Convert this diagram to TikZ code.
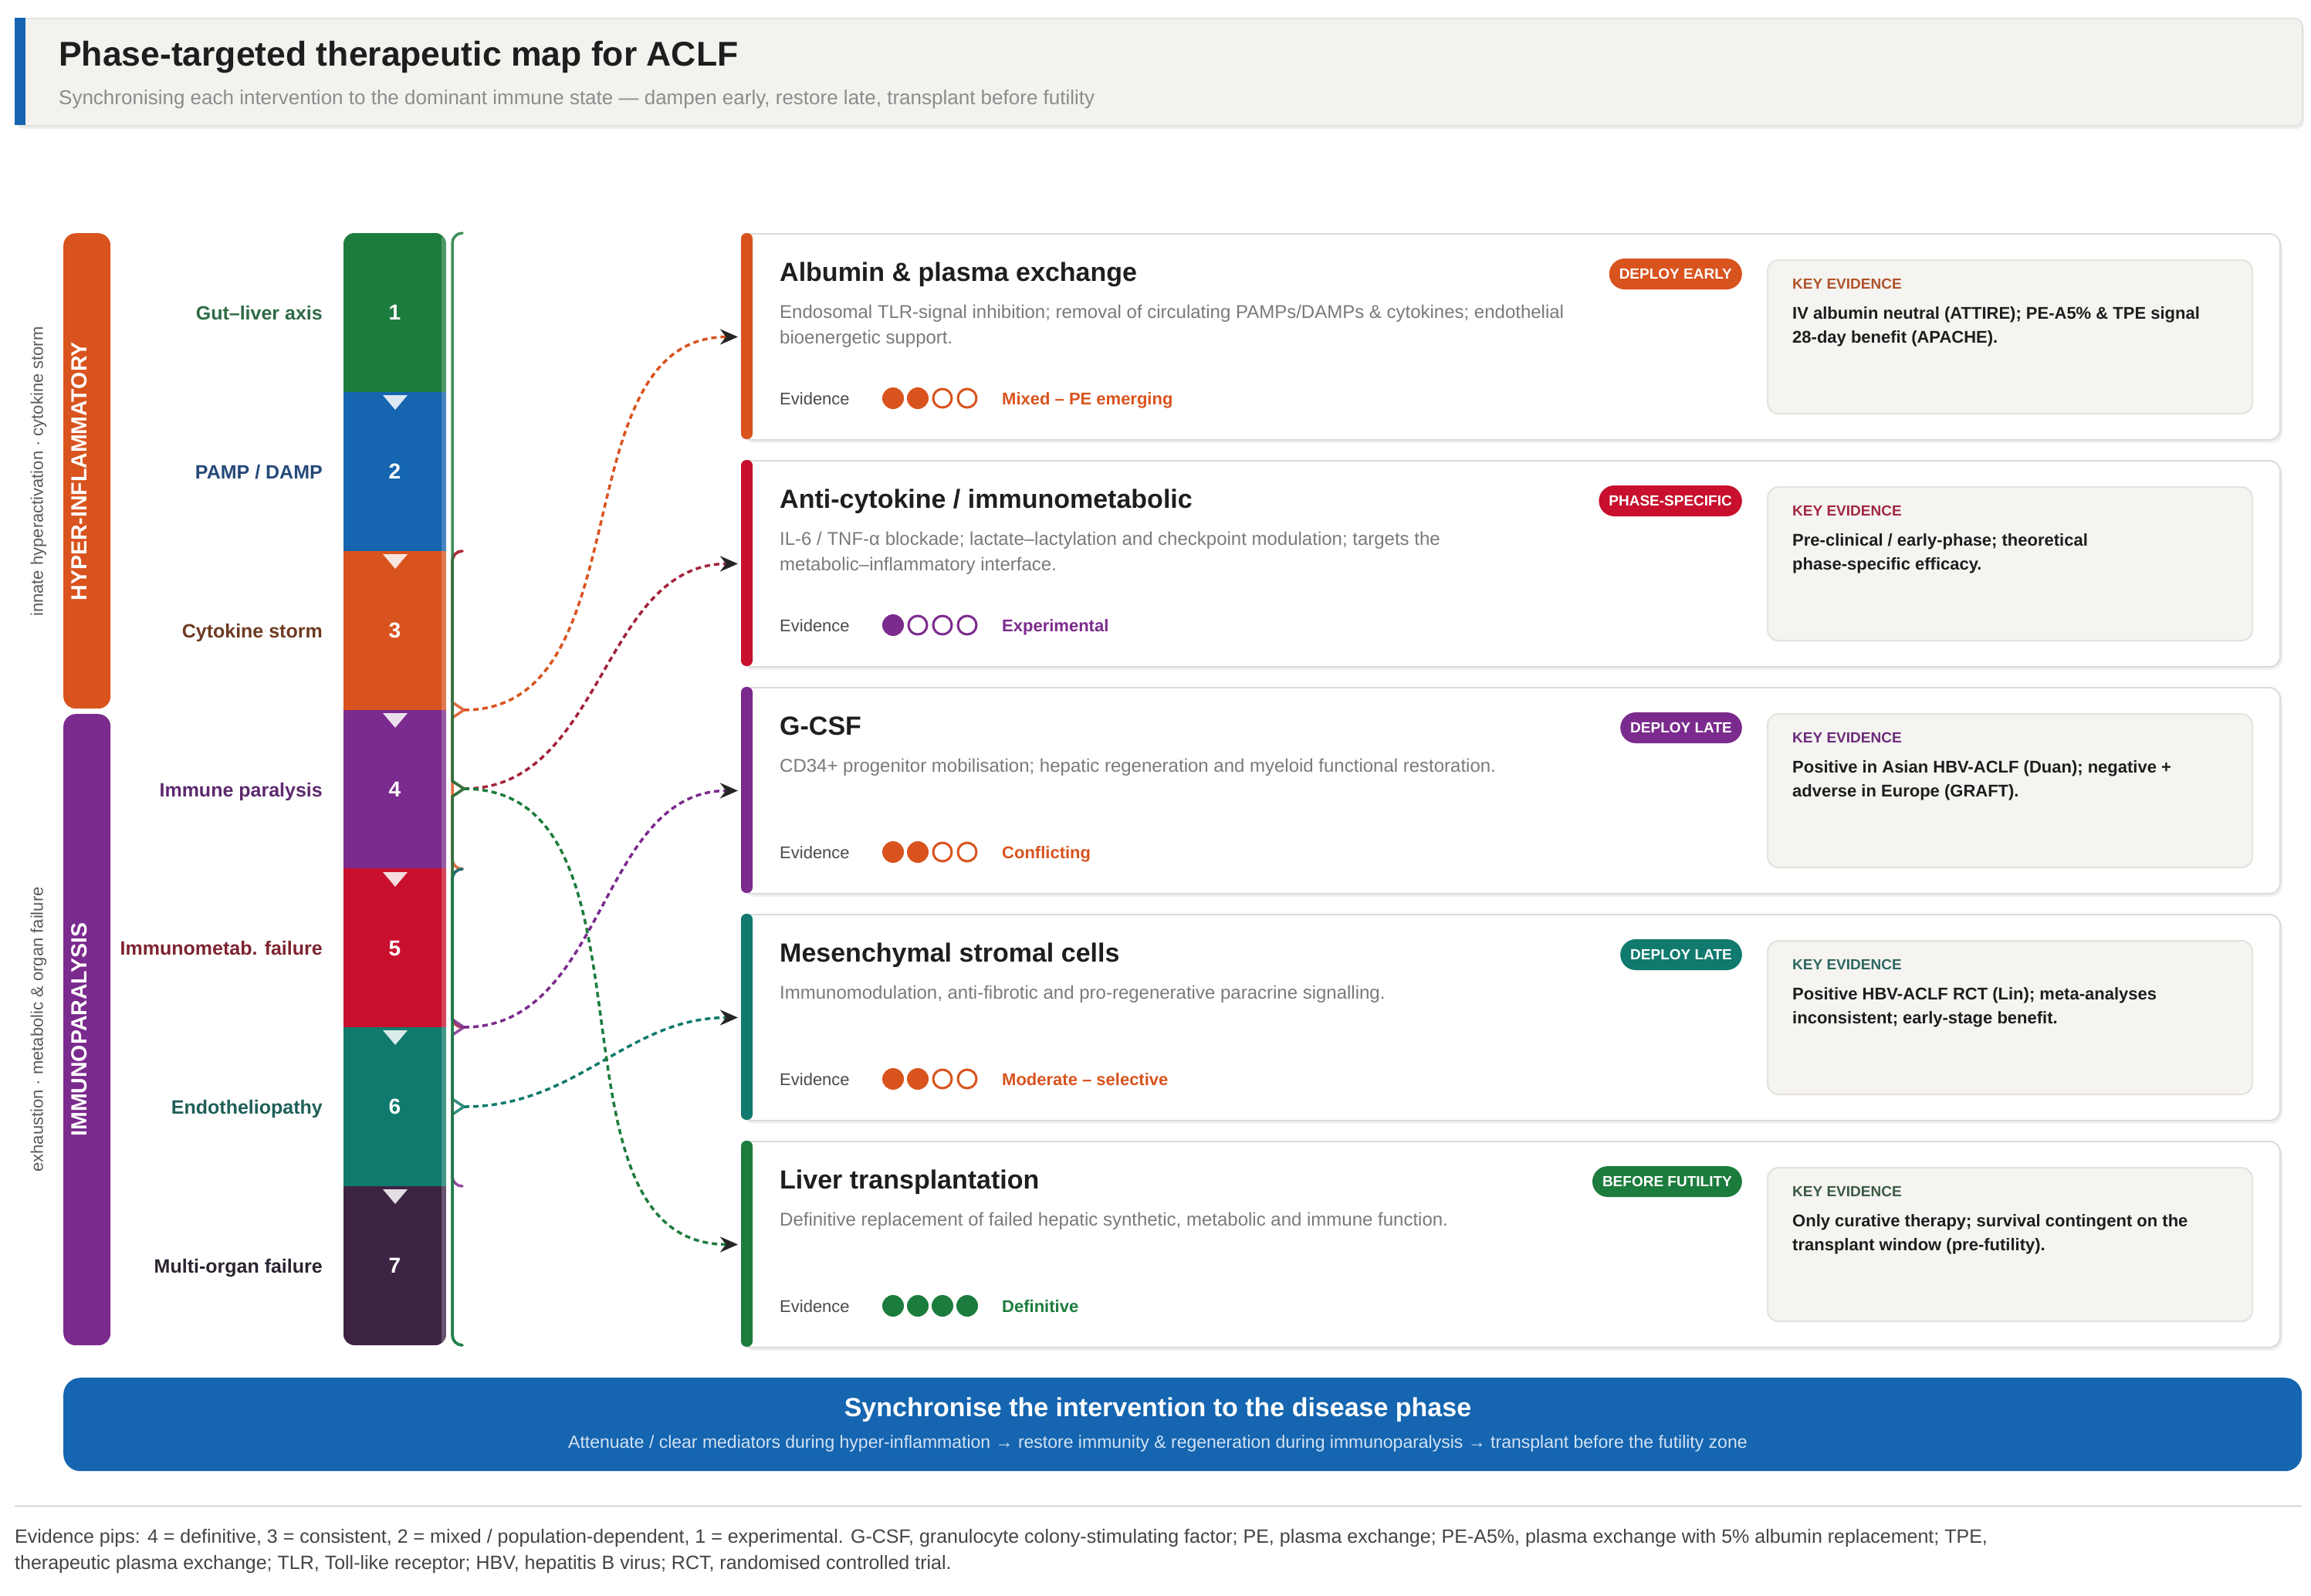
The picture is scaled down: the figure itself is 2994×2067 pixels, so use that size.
\documentclass[tikz,border=0pt]{standalone}
\usepackage{fontspec}
\setmainfont{Liberation Sans}
\usetikzlibrary{arrows.meta}
\newcommand{\fsz}[2]{\fontsize{#1}{#2}\selectfont}
\definecolor{cGreen}{HTML}{1C7C3D}
\definecolor{cBlue}{HTML}{1565B0}
\definecolor{cOrange}{HTML}{D9531E}
\definecolor{cPurple}{HTML}{7B2A8D}
\definecolor{cRed}{HTML}{C8102E}
\definecolor{cTeal}{HTML}{0F7A6D}
\definecolor{cPlum}{HTML}{3D2344}
\definecolor{cHead}{HTML}{F4F2EF}
\definecolor{cHeadB}{HTML}{E2DFDA}
\definecolor{cBorder}{HTML}{DCDCDC}
\definecolor{cKey}{HTML}{F5F4F1}
\definecolor{cKeyB}{HTML}{E4E2DD}
\definecolor{cDesc}{HTML}{7A7A7A}
\definecolor{cDark}{HTML}{1E1E1E}
\definecolor{cSub}{HTML}{8C8C8C}
\definecolor{cGrayTxt}{HTML}{5A5A5A}
\definecolor{cEvl}{HTML}{4A4A4A}
\definecolor{cFoot}{HTML}{444444}
\definecolor{cSep}{HTML}{E2E2E2}
\definecolor{cBannerSub}{HTML}{D2E2F4}
\definecolor{cRedD}{HTML}{A3223C}
\definecolor{labA}{HTML}{2E6A45}
\definecolor{labB}{HTML}{26497A}
\definecolor{labC}{HTML}{6E3A22}
\definecolor{labD}{HTML}{5D2A6E}
\definecolor{labE}{HTML}{7E2430}
\definecolor{labF}{HTML}{1E5F58}
\definecolor{labG}{HTML}{2B2330}
\definecolor{kA}{HTML}{B0532B}
\definecolor{kB}{HTML}{A12842}
\definecolor{kC}{HTML}{6B2C7B}
\definecolor{kD}{HTML}{2E6661}
\definecolor{kE}{HTML}{3A5A42}
\newcommand{\pips}[2]{%
  \foreach \k in {1,2,3,4}{%
    \pgfmathsetmacro{\px}{1125+32*\k}%
    \ifnum\k>#2\relax
      \draw[#1,line width=3pt,fill=white] (\px,214) circle (12pt);
    \else
      \fill[#1] (\px,214) circle (14pt);
    \fi}}
\newcommand{\bracket}[4]{%
  \draw[brk,#1] (599,#2) to[out=180,in=90] (586,#2+13) -- (586,#3-10) -- (601,#3) -- (586,#3+10) -- (586,#4-13) to[out=270,in=180] (599,#4);}
\begin{document}
\begin{tikzpicture}[x=1pt,y=-1pt,
  txt/.style={inner sep=0pt,anchor=base west},
  txtc/.style={inner sep=0pt,anchor=base},
  stl/.style={inner sep=0pt,anchor=base east,font={\fsz{25}{30}\bfseries}},
  seg/.style={minimum width=134pt,minimum height=207pt,inner sep=0pt,text=white,font={\fsz{28}{34}\bfseries}},
  tri/.style={fill=white,opacity=0.85},
  brk/.style={line width=3.5pt,line cap=round,line join=round,opacity=0.85},
  cardbox/.style={draw=cBorder,line width=2pt,fill=white,rounded corners=14pt,minimum width=1993pt,minimum height=267pt,anchor=north west,inner sep=0pt},
  cardshadow/.style={fill=black,opacity=0.06,rounded corners=14pt},
  ttl/.style={txt,font={\fsz{34}{41}\bfseries},text=cDark},
  dsc/.style={txt,font={\fsz{24}{29}},text=cDesc},
  evl/.style={txt,font={\fsz{22}{27}},text=cEvl},
  evt/.style={txt,font={\fsz{22}{27}\bfseries}},
  badge/.style={rounded corners=20pt,minimum height=40pt,inner xsep=13pt,inner ysep=0pt,anchor=east,text=white,font={\fsz{19}{23}\bfseries}},
  keybox/.style={draw=cKeyB,fill=cKey,line width=2pt,rounded corners=14pt,minimum width=628pt,minimum height=199pt,anchor=north west,inner sep=0pt},
  klab/.style={txt,font={\fsz{19}{23}\bfseries}},
  ktx/.style={txt,font={\fsz{22}{27}\bfseries},text=cDark},
  conn/.style={line width=3.5pt,dash pattern=on 7pt off 5pt,-{Stealth[length=23pt,width=20pt,color=black!85]},shorten >=4pt},
  phase/.style={rounded corners=16pt,minimum width=61pt,anchor=north west,inner sep=0pt}
]
\useasboundingbox (0,0) rectangle (2994,2067);
\fill[white] (0,0) rectangle (2994,2067);

% ---------- header
\fill[black,opacity=0.07,rounded corners=10pt] (21,27) rectangle (2985,167);
\node[draw=cHeadB,fill=cHead,line width=1.5pt,rounded corners=10pt,minimum width=2963pt,minimum height=139pt,anchor=north west,inner sep=0pt] (header) at (19,23) {};
\fill[cBlue] (19,23) rectangle (33,162);
\node[txt,font={\fsz{44.5}{52}\bfseries},text=cDark] (title) at (76,85) {Phase-targeted therapeutic map for ACLF};
\node[txt,font={\fsz{26}{31}},text=cSub] (subtitle) at (76,135) {Synchronising each intervention to the dominant immune state — dampen early, restore late, transplant before futility};

% ---------- phase bars
\node[phase,fill=cOrange,minimum height=616pt] (phaseA) at (82,302) {};
\node[phase,fill=cPurple,minimum height=818pt] (phaseB) at (82,925) {};
\node[rotate=90,font={\fsz{28.5}{34}\bfseries},text=white,inner sep=0pt] (phaseAtxt) at (103,611) {HYPER-INFLAMMATORY};
\node[rotate=90,font={\fsz{28.5}{34}\bfseries},text=white,inner sep=0pt] (phaseBtxt) at (103,1334) {IMMUNOPARALYSIS};
\node[rotate=90,font={\fsz{22}{26}},text=cGrayTxt,inner sep=0pt] (noteA) at (50,611) {innate hyperactivation · cytokine storm};
\node[rotate=90,font={\fsz{22}{26}},text=cGrayTxt,inner sep=0pt] (noteB) at (50,1334) {exhaustion · metabolic \& organ failure};

% ---------- stage column
\begin{scope}
\clip[rounded corners=14pt] (445,302) rectangle (578,1743);
\node[seg,fill=cGreen]  (s1) at (511.5,405) {1};
\node[seg,fill=cBlue]   (s2) at (511.5,611) {2};
\node[seg,fill=cOrange] (s3) at (511.5,817) {3};
\node[seg,fill=cPurple] (s4) at (511.5,1023) {4};
\node[seg,fill=cRed]    (s5) at (511.5,1228.5) {5};
\node[seg,fill=cTeal]   (s6) at (511.5,1434) {6};
\node[seg,fill=cPlum]   (s7) at (511.5,1640) {7};
\fill[white,opacity=0.22] (572,302) rectangle (578,1743);
\end{scope}
\foreach \b in {508,714,920,1126,1331,1537}{
  \fill[tri] (496,\b+4) -- (528,\b+4) -- (512,\b+23) -- cycle;}

% ---------- stage labels
\node[stl,text=labA] (l1) at (418,414) {Gut–liver axis};
\node[stl,text=labB] (l2) at (418,620) {PAMP / DAMP};
\node[stl,text=labC] (l3) at (418,826) {Cytokine storm};
\node[stl,text=labD] (l4) at (418,1032) {Immune paralysis};
\node[stl,text=labE] (l5) at (418,1237) {Immunometab. failure};
\node[stl,text=labF] (l6) at (418,1443) {Endotheliopathy};
\node[stl,text=labG] (l7) at (418,1649) {Multi-organ failure};

% ---------- brackets
\bracket{cOrange}{714}{920}{1126}
\bracket{cRedD}{714}{1022}{1331}
\bracket{cPurple}{1126}{1331}{1537}
\bracket{cTeal}{1126}{1434}{1743}
\bracket{cGreen}{302}{1022}{1743}
\coordinate (tipA) at (601,920);
\coordinate (tipR) at (601,1022);
\coordinate (tipP) at (601,1331);
\coordinate (tipT) at (601,1434);
\coordinate (tipG) at (601,1022);

% ---------- card 1
\begin{scope}[shift={(0,302)}]
\fill[cardshadow] (963,4) rectangle (2957,272);
\node[cardbox] (card1) at (960,0) {};
\fill[cOrange,rounded corners=7pt] (960,0) rectangle (975,267);
\node[ttl] (ttl1) at (1010,62) {Albumin \& plasma exchange};
\node[dsc] (dsc1a) at (1010,110) {Endosomal TLR-signal inhibition; removal of circulating PAMPs/DAMPs \& cytokines; endothelial};
\node[dsc] (dsc1b) at (1010,143) {bioenergetic support.};
\node[evl] (evl1) at (1010,222) {Evidence};
\pips{cOrange}{2}
\node[evt,text=cOrange] (evt1) at (1298,222) {Mixed – PE emerging};
\node[badge,fill=cOrange] (bdg1) at (2257,53) {DEPLOY EARLY};
\node[keybox] (key1) at (2289,34) {};
\node[klab,text=kA] (klb1) at (2322,72) {KEY EVIDENCE};
\node[ktx] (ktx1a) at (2322,111) {IV albumin neutral (ATTIRE); PE-A5\% \& TPE signal};
\node[ktx] (ktx1b) at (2322,142) {28-day benefit (APACHE).};
\end{scope}

% ---------- card 2
\begin{scope}[shift={(0,596)}]
\fill[cardshadow] (963,4) rectangle (2957,272);
\node[cardbox] (card2) at (960,0) {};
\fill[cRed,rounded corners=7pt] (960,0) rectangle (975,267);
\node[ttl] (ttl2) at (1010,62) {Anti-cytokine / immunometabolic};
\node[dsc] (dsc2a) at (1010,110) {IL-6 / TNF-α blockade; lactate–lactylation and checkpoint modulation; targets the};
\node[dsc] (dsc2b) at (1010,143) {metabolic–inflammatory interface.};
\node[evl] (evl2) at (1010,222) {Evidence};
\pips{cPurple}{1}
\node[evt,text=cPurple] (evt2) at (1298,222) {Experimental};
\node[badge,fill=cRed] (bdg2) at (2257,53) {PHASE-SPECIFIC};
\node[keybox] (key2) at (2289,34) {};
\node[klab,text=kB] (klb2) at (2322,72) {KEY EVIDENCE};
\node[ktx] (ktx2a) at (2322,111) {Pre-clinical / early-phase; theoretical};
\node[ktx] (ktx2b) at (2322,142) {phase-specific efficacy.};
\end{scope}

% ---------- card 3
\begin{scope}[shift={(0,890)}]
\fill[cardshadow] (963,4) rectangle (2957,272);
\node[cardbox] (card3) at (960,0) {};
\fill[cPurple,rounded corners=7pt] (960,0) rectangle (975,267);
\node[ttl] (ttl3) at (1010,62) {G-CSF};
\node[dsc] (dsc3a) at (1010,110) {CD34+ progenitor mobilisation; hepatic regeneration and myeloid functional restoration.};
\node[evl] (evl3) at (1010,222) {Evidence};
\pips{cOrange}{2}
\node[evt,text=cOrange] (evt3) at (1298,222) {Conflicting};
\node[badge,fill=cPurple] (bdg3) at (2257,53) {DEPLOY LATE};
\node[keybox] (key3) at (2289,34) {};
\node[klab,text=kC] (klb3) at (2322,72) {KEY EVIDENCE};
\node[ktx] (ktx3a) at (2322,111) {Positive in Asian HBV-ACLF (Duan); negative +};
\node[ktx] (ktx3b) at (2322,142) {adverse in Europe (GRAFT).};
\end{scope}

% ---------- card 4
\begin{scope}[shift={(0,1184)}]
\fill[cardshadow] (963,4) rectangle (2957,272);
\node[cardbox] (card4) at (960,0) {};
\fill[cTeal,rounded corners=7pt] (960,0) rectangle (975,267);
\node[ttl] (ttl4) at (1010,62) {Mesenchymal stromal cells};
\node[dsc] (dsc4a) at (1010,110) {Immunomodulation, anti-fibrotic and pro-regenerative paracrine signalling.};
\node[evl] (evl4) at (1010,222) {Evidence};
\pips{cOrange}{2}
\node[evt,text=cOrange] (evt4) at (1298,222) {Moderate – selective};
\node[badge,fill=cTeal] (bdg4) at (2257,53) {DEPLOY LATE};
\node[keybox] (key4) at (2289,34) {};
\node[klab,text=kD] (klb4) at (2322,72) {KEY EVIDENCE};
\node[ktx] (ktx4a) at (2322,111) {Positive HBV-ACLF RCT (Lin); meta-analyses};
\node[ktx] (ktx4b) at (2322,142) {inconsistent; early-stage benefit.};
\end{scope}

% ---------- card 5
\begin{scope}[shift={(0,1478)}]
\fill[cardshadow] (963,4) rectangle (2957,272);
\node[cardbox] (card5) at (960,0) {};
\fill[cGreen,rounded corners=7pt] (960,0) rectangle (975,267);
\node[ttl] (ttl5) at (1010,62) {Liver transplantation};
\node[dsc] (dsc5a) at (1010,110) {Definitive replacement of failed hepatic synthetic, metabolic and immune function.};
\node[evl] (evl5) at (1010,222) {Evidence};
\pips{cGreen}{4}
\node[evt,text=cGreen] (evt5) at (1298,222) {Definitive};
\node[badge,fill=cGreen] (bdg5) at (2257,53) {BEFORE FUTILITY};
\node[keybox] (key5) at (2289,34) {};
\node[klab,text=kE] (klb5) at (2322,72) {KEY EVIDENCE};
\node[ktx] (ktx5a) at (2322,111) {Only curative therapy; survival contingent on the};
\node[ktx] (ktx5b) at (2322,142) {transplant window (pre-futility).};
\end{scope}

% ---------- connectors
\draw[conn,draw=cOrange] (tipA) to[out=0,in=180] (card1.west);
\draw[conn,draw=cRedD]   (tipR) to[out=0,in=180] (card2.west);
\draw[conn,draw=cPurple] (tipP) to[out=0,in=180] (card3.west);
\draw[conn,draw=cTeal]   (tipT) to[out=0,in=180] (card4.west);
\draw[conn,draw=cGreen]  (tipG) to[out=0,in=180] (card5.west);

% ---------- banner
\node[fill=cBlue,rounded corners=22pt,minimum width=2900pt,minimum height=121pt,anchor=north west,inner sep=0pt] (banner) at (82,1785) {};
\node[txtc,font={\fsz{34}{41}\bfseries},text=white] (bannerT) at (1500,1835) {Synchronise the intervention to the disease phase};
\node[txtc,font={\fsz{23}{28}},text=cBannerSub] (bannerS) at (1500,1876) {Attenuate / clear mediators during hyper-inflammation → restore immunity \& regeneration during immunoparalysis → transplant before the futility zone};

% ---------- footnote
\draw[cSep,line width=3pt] (19,1951) -- (2982,1951);
\node[txt,font={\fsz{25}{30}},text=cFoot] (fn1) at (19,1999) {Evidence pips: 4 = definitive, 3 = consistent, 2 = mixed / population-dependent, 1 = experimental. G-CSF, granulocyte colony-stimulating factor; PE, plasma exchange; PE-A5\%, plasma exchange with 5\% albumin replacement; TPE,};
\node[txt,font={\fsz{25}{30}},text=cFoot] (fn2) at (19,2033) {therapeutic plasma exchange; TLR, Toll-like receptor; HBV, hepatitis B virus; RCT, randomised controlled trial.};
\end{tikzpicture}
\end{document}
